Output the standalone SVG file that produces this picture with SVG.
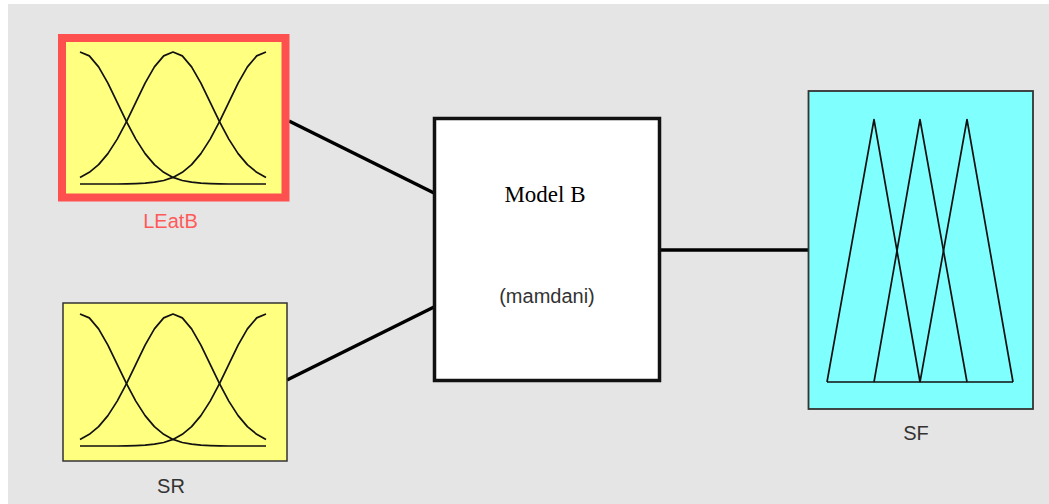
<svg xmlns="http://www.w3.org/2000/svg" width="1049" height="504" viewBox="0 0 1049 504">
<style>
.mf{fill:none;stroke:#111;stroke-width:1.7;stroke-linejoin:round}
.conn{stroke:#000;stroke-width:3.5;fill:none}
.lbl{font-family:"Liberation Sans",Arial,sans-serif;font-size:20px;text-anchor:middle;fill:#333}
</style>
<defs>
<g id="gauss3">
<polyline class="mf" points="0,-132 9.3,-128.1 18.6,-117.1 27.9,-100.8 37.2,-81.7 46.5,-62.4 55.8,-44.9 65.1,-30.4 74.4,-19.4 83.7,-11.7 93,-6.6 102.3,-3.5 111.6,-1.8 120.9,-0.8 130.2,-0.4 139.5,-0.2 148.8,0 186,0"/>
<polyline class="mf" points="0,-6.6 9.3,-11.7 18.6,-19.4 27.9,-30.4 37.2,-44.9 46.5,-62.4 55.8,-81.7 65.1,-100.8 74.4,-117.1 83.7,-128.1 93,-132 102.3,-128.1 111.6,-117.1 120.9,-100.8 130.2,-81.7 139.5,-62.4 148.8,-44.9 158.1,-30.4 167.4,-19.4 176.7,-11.7 186,-6.6"/>
<polyline class="mf" points="0,0 37.2,0 46.5,-0.2 55.8,-0.4 65.1,-0.8 74.4,-1.8 83.7,-3.5 93,-6.6 102.3,-11.7 111.6,-19.4 120.9,-30.4 130.2,-44.9 139.5,-62.4 148.8,-81.7 158.1,-100.8 167.4,-117.1 176.7,-128.1 186,-132"/>
</g>
</defs>
<rect x="0" y="0" width="1049" height="504" fill="#ffffff"/>
<rect x="8" y="4" width="1041" height="500" fill="#e5e5e5"/>
<g id="connectors">
<line class="conn" x1="289" y1="121" x2="434" y2="193"/>
<line class="conn" x1="287" y1="380" x2="434" y2="307"/>
<line class="conn" x1="660" y1="250" x2="808" y2="250"/>
</g>
<g id="node-LEatB">
<rect x="62" y="38" width="223.5" height="159.5" fill="#ffff80" stroke="#ff5050" stroke-width="8"/>
<use href="#gauss3" transform="translate(80,184)"/>
<text class="lbl" x="170.5" y="228" style="fill:#ff5a5a">LEatB</text>
</g>
<g id="node-SR">
<rect x="63" y="303" width="224" height="158" fill="#ffff80" stroke="#333" stroke-width="1.5"/>
<use href="#gauss3" transform="translate(80,446)"/>
<text class="lbl" x="171" y="493">SR</text>
</g>
<g id="node-ModelB">
<rect x="434.5" y="118.5" width="225" height="262" fill="#ffffff" stroke="#111" stroke-width="3.5"/>
<text x="545" y="201.5" font-family="'Liberation Serif','Times New Roman',serif" font-size="23" text-anchor="middle" fill="#000">Model B</text>
<text class="lbl" x="547" y="303">(mamdani)</text>
</g>
<g id="node-SF">
<rect x="808.5" y="91" width="224.5" height="318" fill="#80ffff" stroke="#333" stroke-width="1.8"/>
<polyline class="mf" points="827,382 874,119.5 920,382"/>
<polyline class="mf" points="874,382 920,119.5 967,382"/>
<polyline class="mf" points="920,382 967,119.5 1013,382"/>
<line class="mf" x1="827" y1="382" x2="1013" y2="382"/>
<text class="lbl" x="916" y="440">SF</text>
</g>
</svg>
